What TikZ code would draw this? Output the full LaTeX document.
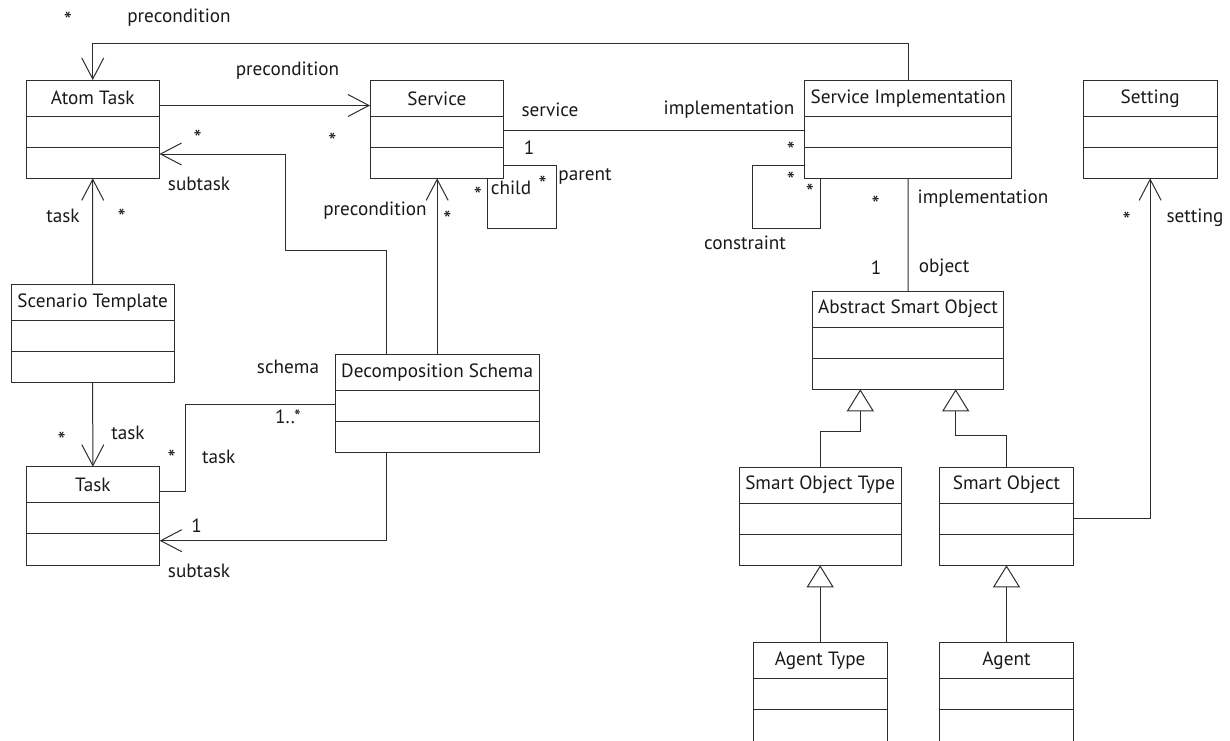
\documentclass[tikz,border=0pt]{standalone}
\usepackage{fontspec}
\setmainfont{PT Sans}
\usetikzlibrary{arrows.meta,calc}
\definecolor{ln}{RGB}{45,45,45}
\definecolor{tx}{RGB}{25,25,25}
\newcommand\umlclass[6]{%
  \pgfmathsetmacro\ucx{(#2+#4)/2}%
  \pgfmathsetmacro\ucy{(#3+#5)/2}%
  \pgfmathsetmacro\ucw{#4-#2}%
  \pgfmathsetmacro\uch{#5-#3}%
  \node[clsbox, minimum width=\ucw pt, minimum height=\uch pt] (#1) at (\ucx,\ucy) {};
  \draw[conn] ([yshift=-36pt]#1.north west) -- ([yshift=-36pt]#1.north east);
  \draw[conn] ([yshift=-67pt]#1.north west) -- ([yshift=-67pt]#1.north east);
  \node[lbl] (#1-t) at ([yshift=-18pt]#1.north) {#6};
}
\begin{document}
\begin{tikzpicture}[x=1pt,y=-1pt,
  every node/.style={font=\fontsize{19.2}{23}\selectfont, text=tx},
  clsbox/.style={draw=ln, line width=1pt, inner sep=0pt, outer sep=0pt},
  conn/.style={draw=ln, line width=1pt},
  arr/.style={conn, -{Straight Barb[length=21pt,width=22pt,line width=1pt]}},
  gen/.style={conn, -{Triangle[open,length=22pt,width=27pt,line width=1pt]}},
  lbl/.style={inner sep=0pt, anchor=center},
  mult/.style={inner sep=0pt, anchor=center, yshift=-5pt, font=\fontsize{23}{26}\selectfont}]
\useasboundingbox (0,0) rectangle (1230,740);
% classes
\umlclass{at}{26}{80}{159.5}{178.3}{Atom Task}
\umlclass{sv}{370}{80.7}{503.7}{178.3}{Service}
\umlclass{si}{804.7}{80.7}{1011.7}{178.3}{Service Implementation}
\umlclass{set}{1083.3}{80.7}{1217}{178.3}{Setting}
\umlclass{st}{11.3}{284.3}{174}{382.7}{Scenario Template}
\umlclass{tk}{26}{466.7}{159.7}{565}{Task}
\umlclass{ds}{335.3}{354.7}{539}{452.7}{Decomposition Schema}
\umlclass{aso}{812.3}{291}{1003.7}{389.3}{Abstract Smart Object}
\umlclass{sot}{739.3}{467}{901}{565.3}{Smart Object Type}
\umlclass{so}{939.7}{467}{1073.3}{565.3}{Smart Object}
\umlclass{agt}{753.3}{642.7}{887}{742}{Agent Type}
\umlclass{ag}{939.7}{642.7}{1073.3}{742}{Agent}
% connectors
\draw[arr] (si.north) -- (si.north |- 0,43.3) -| (at.north);
\draw[arr] (at.east |- 0,105.5) -- (sv.west |- 0,105.5);
\draw[arr] (ds.north -| 386.7,0) |- (285,250) |- (at.east |- 0,154);
\draw[arr] (st.north) -- (at.south);
\draw[arr] (ds.north) -- (ds.north |- sv.south);
\draw[conn] (sv.east |- 0,130) -- (si.west |- 0,130);
\draw[conn] (sv.south -| 487,0) -- (487,228.3) -- (556,228.3) -- (556,165.7) -- (sv.east |- 0,165.7);
\draw[conn] (si.west |- 0,165.7) -- (752,165.7) -- (752,228.3) -- (820.7,228.3) -- (si.south -| 820.7,0);
\draw[conn] (si.south) -- (aso.north);
\draw[gen] (sot.north) |- (860.3,431.7) -- (aso.south -| 860.3,0);
\draw[gen] (so.north) |- (955.7,435) -- (aso.south -| 955.7,0);
\draw[gen] (agt.north) -- (sot.south);
\draw[gen] (ag.north) -- (so.south);
\draw[arr] (so.east |- 0,518) -| (set.south);
\draw[arr] (st.south) -- (tk.north);
\draw[conn] (tk.east |- 0,491) -| (185.7,404) -- (ds.west |- 0,404);
\draw[arr] (ds.south -| 386.7,0) |- (tk.east |- 0,540.7);
% labels
\node[mult] (m1) at (68,15) {*};
\node[lbl] (l1) at (179,18) {precondition};
\node[lbl] (l2) at (287.5,71) {precondition};
\node[mult] (m2) at (332.3,136) {*};
\node[mult] (m3) at (197.7,133.3) {*};
\node[lbl] (l3) at (199,184) {subtask};
\node[lbl] (l4) at (63,216) {task};
\node[mult] (m4) at (121.7,212.3) {*};
\node[lbl] (l5) at (375,211) {precondition};
\node[mult] (m5) at (447.3,214) {*};
\node[lbl] (l6) at (550,110) {service};
\node[lbl] (l7) at (529,148) {1};
\node[mult] (m6) at (478,190.7) {*};
\node[lbl] (l8) at (511,188) {child};
\node[mult] (m7) at (542.7,179) {*};
\node[lbl] (l9) at (585,176.7) {parent};
\node[lbl] (l10) at (729,110) {implementation};
\node[mult] (m8) at (791,145) {*};
\node[mult] (m9) at (791,175.7) {*};
\node[mult] (m10) at (810,187) {*};
\node[lbl] (l11) at (745,243) {constraint};
\node[mult] (m11) at (875.7,199) {*};
\node[lbl] (l12) at (983,199) {implementation};
\node[lbl] (l13) at (876,268) {1};
\node[lbl] (l14) at (944,268) {object};
\node[mult] (m12) at (1126.7,215) {*};
\node[lbl] (l15) at (1195,218) {setting};
\node[lbl] (l16) at (288,366.7) {schema};
\node[lbl] (l17) at (288,416.7) {1..*};
\node[mult] (m13) at (61.7,435) {*};
\node[lbl] (l18) at (128,433) {task};
\node[mult] (m14) at (171.7,453) {*};
\node[lbl] (l19) at (218.7,456.7) {task};
\node[lbl] (l20) at (196.7,526) {1};
\node[lbl] (l21) at (199,570.7) {subtask};
\end{tikzpicture}
\end{document}
